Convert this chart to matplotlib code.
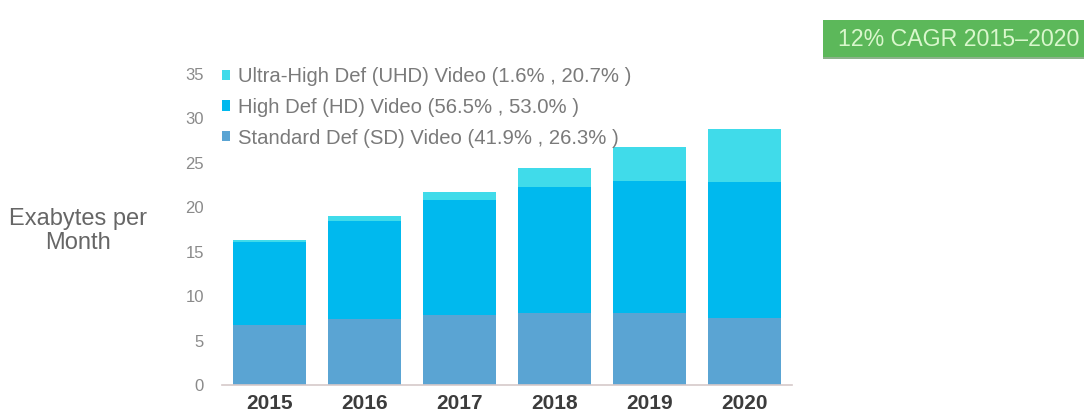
import matplotlib
matplotlib.use("Agg")
import matplotlib.pyplot as plt
from matplotlib.patches import Rectangle
import numpy as np

plt.rcParams['font.family'] = ['Liberation Sans', 'DejaVu Sans']

# Monthly video traffic (exabytes) by resolution
years = ["2015", "2016", "2017", "2018", "2019", "2020"]
sd_values = [6.8, 7.4, 7.9, 8.1, 8.1, 7.5]
hd_values = [9.3, 11.05, 12.9, 14.2, 14.85, 15.4]
uhd_values = [0.25, 0.6, 0.9, 2.1, 3.85, 5.9]

series_labels = [
    "Standard Def (SD) Video (41.9% , 26.3% )",
    "High Def (HD) Video (56.5% , 53.0% )",
    "Ultra-High Def (UHD) Video (1.6% , 20.7% )",
]
y_ticks = [0, 5, 10, 15, 20, 25, 30, 35]
badge_text = "12% CAGR 2015\u20132020"

SD_COLOR = "#5aa4d3"
HD_COLOR = "#00b9ee"
UHD_COLOR = "#40dbea"

W, H = 1084, 416
fig = plt.figure(figsize=(W / 100, H / 100), dpi=100)
fig.patch.set_facecolor("white")

ax = fig.add_axes([222 / W, (H - 385) / H, (792 - 222) / W, (385 - 74) / H])

x = np.arange(len(years))
sd = np.array(sd_values)
hd = np.array(hd_values)
uhd = np.array(uhd_values)
bw = 0.77

b_sd = ax.bar(x, sd, width=bw, color=SD_COLOR, label=series_labels[0])
b_hd = ax.bar(x, hd, width=bw, bottom=sd, color=HD_COLOR, label=series_labels[1])
b_uhd = ax.bar(x, uhd, width=bw, bottom=sd + hd, color=UHD_COLOR, label=series_labels[2])

ax.set_xlim(-0.5, len(years) - 0.5)
ax.set_ylim(0, 35)
ax.set_yticks(y_ticks)
ax.set_yticklabels([str(t) for t in y_ticks])
ax.set_xticks(x)
ax.set_xticklabels(years)

for side in ["top", "right", "left"]:
    ax.spines[side].set_visible(False)
ax.spines["bottom"].set_color("#d6c9c9")
ax.spines["bottom"].set_linewidth(1.2)

ax.tick_params(axis="y", length=0, pad=13, labelsize=12, labelcolor="#8a8a8a")
ax.tick_params(axis="x", length=0, pad=6.5, labelsize=15, labelcolor="#3c3c3c")
for lbl in ax.get_xticklabels():
    lbl.set_fontweight("bold")

handles = [b_uhd, b_hd, b_sd]
labels = [series_labels[2], series_labels[1], series_labels[0]]
fig.legend(handles, labels, loc="upper left",
           bbox_to_anchor=(222 / W, 1 - 67 / H),
           frameon=False, fontsize=14.6, labelcolor="#7a7a7a",
           handlelength=0.4, handleheight=0.4, handletextpad=0.4,
           labelspacing=0.58, borderpad=0, borderaxespad=0)

fig.text(78 / W, 1 - 231 / H, "Exabytes per\nMonth", ha="center", va="center",
         multialignment="center", fontsize=17, color="#666666", linespacing=1.1)

# CAGR badge in the top-right corner
fig.patches.append(Rectangle((823 / W, (H - 59) / H), (W - 823) / W, 3 / H,
                             transform=fig.transFigure, facecolor="#3f7f3c",
                             edgecolor="none", alpha=0.6))
fig.patches.append(Rectangle((823 / W, (H - 57) / H), (W - 823) / W, 37 / H,
                             transform=fig.transFigure, facecolor="#5cb85a",
                             edgecolor="none"))
fig.text(959 / W, 1 - 39 / H, badge_text, ha="center", va="center",
         fontsize=16.7, color="#d9f7cc")

fig.savefig("out.png", dpi=100, facecolor="white")
